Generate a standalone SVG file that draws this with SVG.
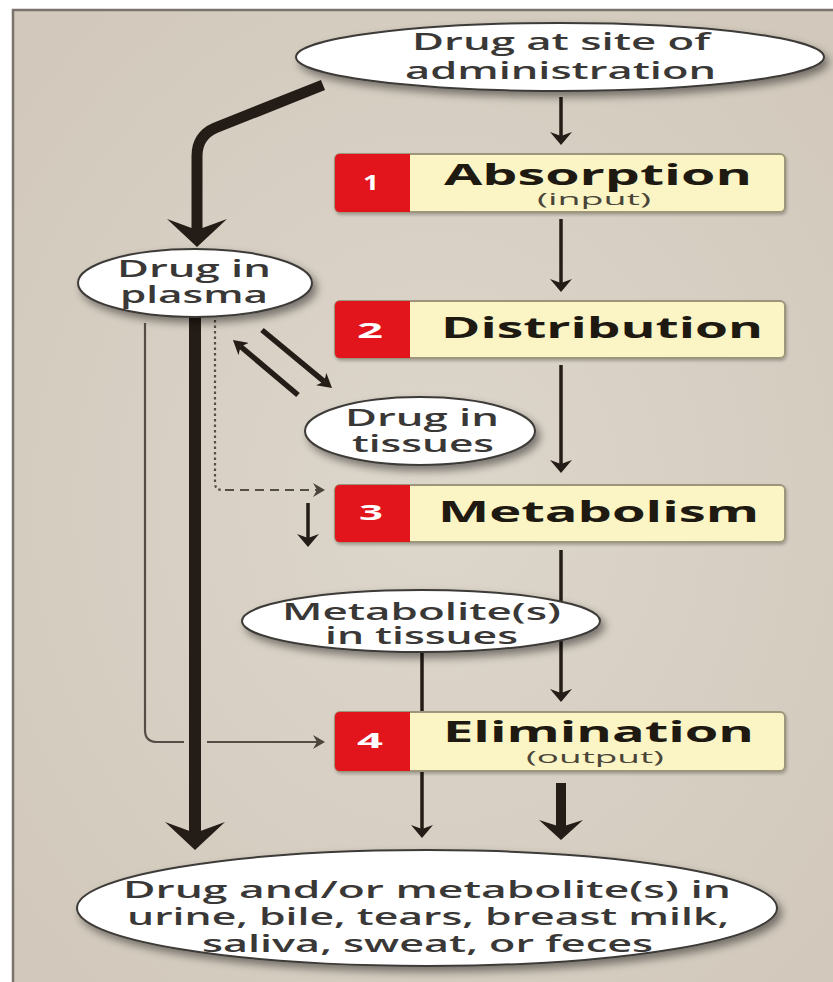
<svg xmlns="http://www.w3.org/2000/svg" width="833" height="982" viewBox="0 0 833 982">
<defs>
<style>
.ell{fill:#ffffff;stroke:#3e3b38;stroke-width:2;filter:url(#sh)}
.box{fill:#fbf5c6;stroke:#9d967a;stroke-width:2;filter:url(#sh2)}
.red{fill:#e2151d}
.et{font-family:"Open Sans","Liberation Sans",sans-serif;font-size:24px;font-weight:600;fill:#3a3836}
.bt{font-family:"Open Sans","Liberation Sans",sans-serif;font-size:29px;font-weight:700;fill:#1e1a12}
.st{font-family:"Open Sans","Liberation Sans",sans-serif;font-size:16px;fill:#4a4538}
.nt{font-family:"Open Sans","Liberation Sans",sans-serif;font-size:22px;font-weight:700;fill:#ffffff}
.ln{fill:none;stroke:#241c16;stroke-linecap:butt}
.gl{fill:none;stroke:#554e46;stroke-width:2.2}
</style>
<radialGradient id="bg" cx="50%" cy="50%" r="65%">
<stop offset="0" stop-color="#ddd6cb"/>
<stop offset="1" stop-color="#d2c9bc"/>
</radialGradient>
<filter id="sh" x="-20%" y="-30%" width="150%" height="170%">
<feDropShadow dx="4" dy="5" stdDeviation="4" flood-color="#000" flood-opacity="0.45"/>
</filter>
<filter id="sh2" x="-10%" y="-20%" width="120%" height="150%">
<feDropShadow dx="1" dy="2" stdDeviation="1.5" flood-color="#000" flood-opacity="0.25"/>
</filter>
<marker id="mThin" markerUnits="userSpaceOnUse" viewBox="0 0 13 22" markerWidth="13" markerHeight="22" refX="4" refY="11" orient="auto">
<path d="M0,0 L13,11 L0,22 L4,11 z" fill="#241c16"/>
</marker>
<marker id="mMid" markerUnits="userSpaceOnUse" viewBox="0 0 20 44" markerWidth="20" markerHeight="44" refX="7" refY="22" orient="auto">
<path d="M0,0 L20,22 L0,44 L7,22 z" fill="#241c16"/>
</marker>
<marker id="mBig" markerUnits="userSpaceOnUse" viewBox="0 0 28 60" markerWidth="28" markerHeight="60" refX="11" refY="30" orient="auto">
<path d="M0,0 L28,30 L0,60 L11,30 z" fill="#241c16"/>
</marker>
<marker id="mEq" markerUnits="userSpaceOnUse" viewBox="0 0 14 16" markerWidth="14" markerHeight="16" refX="4" refY="8" orient="auto">
<path d="M0,0 L14,8 L0,16 L4,8 z" fill="#241c16"/>
</marker>
<marker id="mGrey" markerUnits="userSpaceOnUse" viewBox="0 0 12 14" markerWidth="12" markerHeight="14" refX="4" refY="7" orient="auto">
<path d="M0,0 L12,7 L0,14 L4,7 z" fill="#4a443c"/>
</marker>
</defs>

<rect x="0" y="0" width="833" height="982" fill="#ffffff"/>
<rect x="13" y="10" width="840" height="990" fill="url(#bg)" stroke="#7a746c" stroke-width="2.5"/>

<g id="connectors">
<path class="ln" d="M561,97 V136" stroke-width="3.5" marker-end="url(#mThin)"/>
<path class="ln" d="M561,219 V283" stroke-width="3.5" marker-end="url(#mThin)"/>
<path class="ln" d="M561,365 V464" stroke-width="3.5" marker-end="url(#mThin)"/>
<path class="ln" d="M561,550 V693" stroke-width="3.5" marker-end="url(#mThin)"/>
<path class="ln" d="M422,650 V829" stroke-width="3.5" marker-end="url(#mThin)"/>
<path class="ln" d="M561,783 V827" stroke-width="10" marker-end="url(#mMid)"/>
<path class="ln" d="M323,85 L215,128 Q197,136 197,156 V230" stroke-width="11" marker-end="url(#mBig)"/>
<path class="ln" d="M195,317 V833" stroke-width="12" marker-end="url(#mBig)"/>
<path class="gl" d="M145,323 V730 Q145,742 157,742 H184"/>
<path class="gl" d="M207,742 H317" marker-end="url(#mGrey)"/>
<path class="gl" d="M215,320 V483 Q215,490 222,490" stroke-dasharray="2.5 3" stroke="#3a332c"/>
<path class="gl" d="M225,490 H317" stroke-dasharray="9 6" stroke="#3a332c" marker-end="url(#mGrey)"/>
<path class="ln" d="M262,330 L324.3,381.6" stroke-width="5.5" marker-end="url(#mEq)"/>
<path class="ln" d="M298,395 L240.6,346.5" stroke-width="5.5" marker-end="url(#mEq)"/>
<path class="ln" d="M308,503 V538" stroke-width="3.5" marker-end="url(#mThin)"/>
</g>

<g id="site">
<ellipse class="ell" cx="560" cy="57" rx="264" ry="34"/>
<text class="et" x="412" y="50" textLength="298" lengthAdjust="spacingAndGlyphs">Drug at site of</text>
<text class="et" x="405" y="79" textLength="311" lengthAdjust="spacingAndGlyphs">administration</text>
</g>

<g id="absorption">
<rect class="box" x="335" y="154" width="450" height="58" rx="5"/>
<path class="red" d="M340,154 H410 V212 H340 Q335,212 335,207 V159 Q335,154 340,154 z"/>
<text class="nt" x="371" y="190" text-anchor="middle" textLength="16" lengthAdjust="spacingAndGlyphs">1</text>
<text class="bt" x="444" y="185" textLength="308" lengthAdjust="spacingAndGlyphs">Absorption</text>
<text class="st" x="537" y="205" textLength="114" lengthAdjust="spacingAndGlyphs">(input)</text>
</g>

<g id="plasma">
<ellipse class="ell" cx="195" cy="283" rx="117" ry="34"/>
<text class="et" x="117" y="277" textLength="154" lengthAdjust="spacingAndGlyphs">Drug in</text>
<text class="et" x="120" y="303" textLength="148" lengthAdjust="spacingAndGlyphs">plasma</text>
</g>

<g id="distribution">
<rect class="box" x="335" y="301" width="450" height="57" rx="5"/>
<path class="red" d="M340,301 H410 V358 H340 Q335,358 335,353 V306 Q335,301 340,301 z"/>
<text class="nt" x="370" y="338" text-anchor="middle" textLength="26" lengthAdjust="spacingAndGlyphs">2</text>
<text class="bt" x="441" y="338" textLength="322" lengthAdjust="spacingAndGlyphs">Distribution</text>
</g>

<g id="tissues">
<ellipse class="ell" cx="420" cy="431" rx="115" ry="34"/>
<text class="et" x="345" y="426" textLength="154" lengthAdjust="spacingAndGlyphs">Drug in</text>
<text class="et" x="352" y="452" textLength="142" lengthAdjust="spacingAndGlyphs">tissues</text>
</g>

<g id="metabolism">
<rect class="box" x="335" y="485" width="450" height="57" rx="5"/>
<path class="red" d="M340,485 H410 V542 H340 Q335,542 335,537 V490 Q335,485 340,485 z"/>
<text class="nt" x="371" y="520" text-anchor="middle" textLength="24" lengthAdjust="spacingAndGlyphs">3</text>
<text class="bt" x="438" y="522" textLength="321" lengthAdjust="spacingAndGlyphs">Metabolism</text>
</g>

<g id="metabolites">
<ellipse class="ell" cx="421" cy="621" rx="179" ry="31"/>
<text class="et" x="282" y="620" textLength="279" lengthAdjust="spacingAndGlyphs">Metabolite(s)</text>
<text class="et" x="325" y="644" textLength="193" lengthAdjust="spacingAndGlyphs">in tissues</text>
</g>

<g id="elimination">
<rect class="box" x="335" y="712" width="450" height="59" rx="5"/>
<path class="red" d="M340,712 H410 V771 H340 Q335,771 335,766 V717 Q335,712 340,712 z"/>
<text class="nt" x="370" y="748" text-anchor="middle" textLength="26" lengthAdjust="spacingAndGlyphs">4</text>
<text class="bt" x="443" y="742" textLength="311" lengthAdjust="spacingAndGlyphs">Elimination</text>
<text class="st" x="526" y="763" textLength="138" lengthAdjust="spacingAndGlyphs">(output)</text>
</g>

<g id="excreted">
<ellipse class="ell" cx="427" cy="908" rx="350" ry="58"/>
<text class="et" x="123" y="898" textLength="608" lengthAdjust="spacingAndGlyphs">Drug and/or metabolite(s) in</text>
<text class="et" x="127" y="925" textLength="602" lengthAdjust="spacingAndGlyphs">urine, bile, tears, breast milk,</text>
<text class="et" x="202" y="952" textLength="451" lengthAdjust="spacingAndGlyphs">saliva, sweat, or feces</text>
</g>
</svg>
